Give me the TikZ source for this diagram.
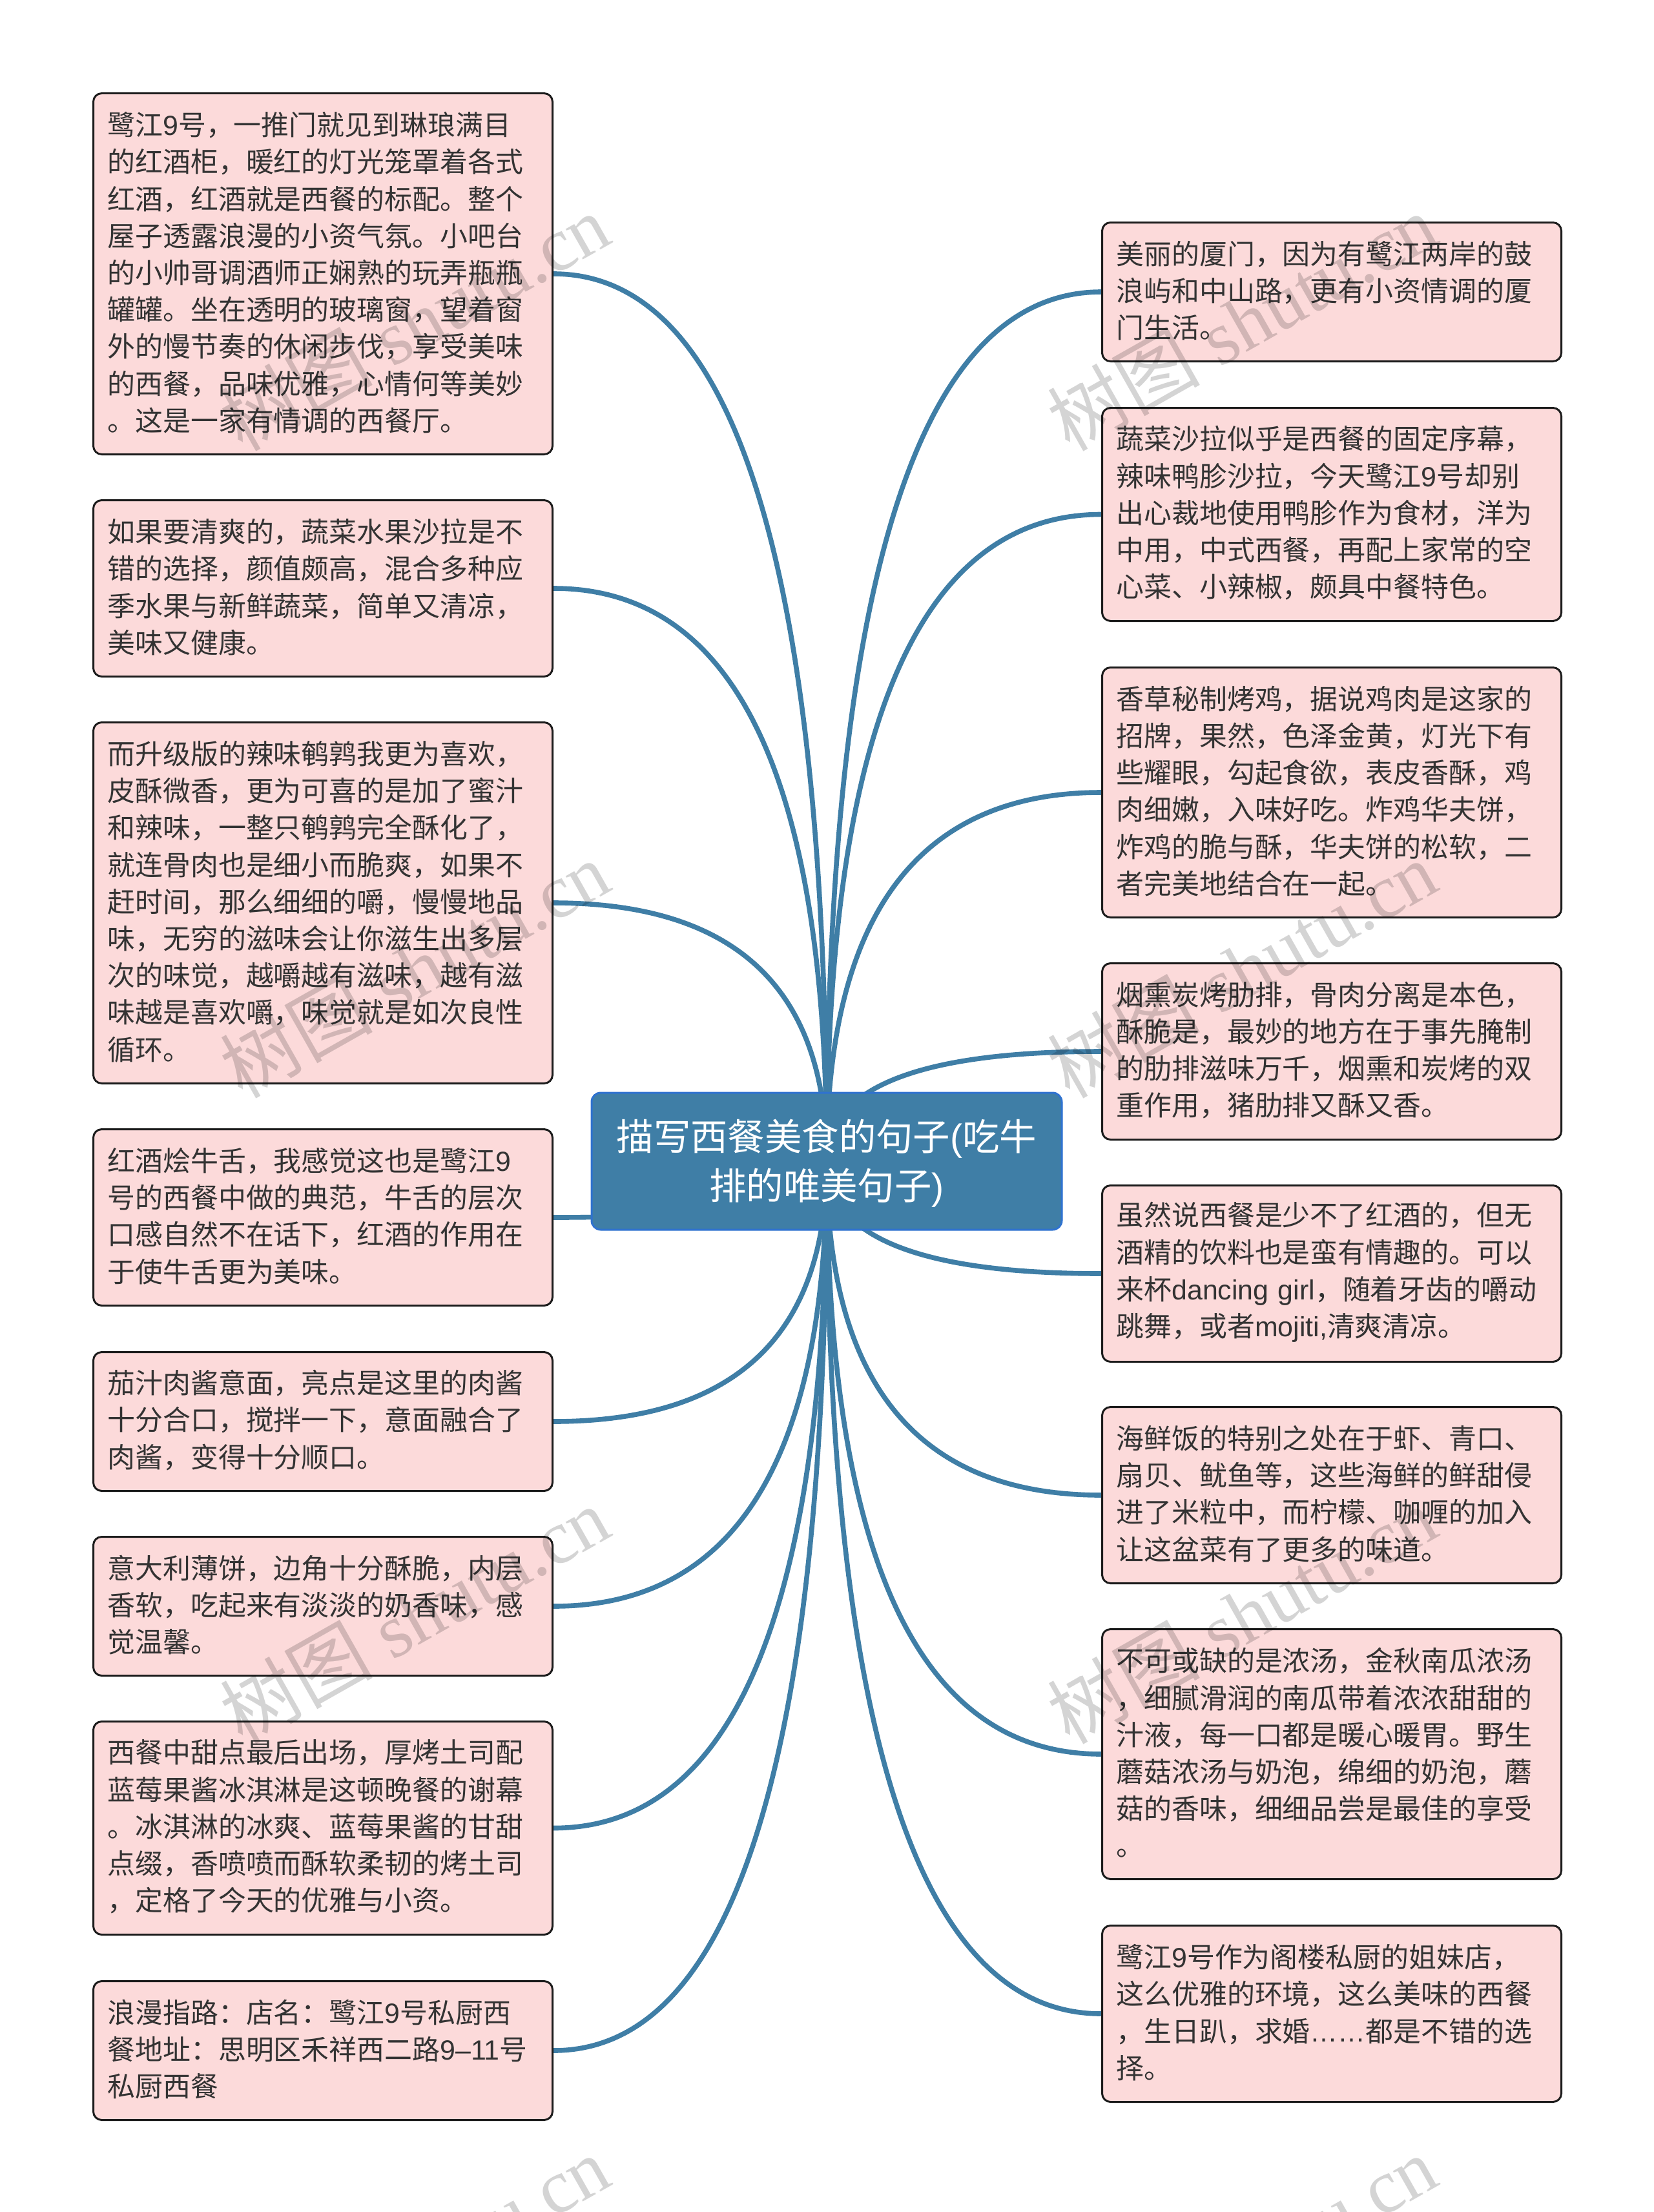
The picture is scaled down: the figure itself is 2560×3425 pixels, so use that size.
\documentclass[tikz,border=0pt]{standalone}
\usepackage{fontspec}
\usetikzlibrary{calc,backgrounds}
\setmainfont{Noto Sans CJK SC}
\newfontfamily\wmfont{Liberation Serif}
\newfontfamily\cjkwm{Noto Sans CJK SC}
\newfontfamily\latfont{Liberation Sans}
\definecolor{stem}{HTML}{3F7EA6}
\definecolor{rootedge}{HTML}{2F72CF}
\definecolor{pinkfill}{HTML}{FCDADA}
\definecolor{boxedge}{HTML}{1C1C1C}
\definecolor{ink}{HTML}{333333}
\tikzset{
  pinkbox/.style={draw=boxedge,fill=pinkfill,line width=1.5pt,rounded corners=6.5pt,
    anchor=north west,minimum width=355.5pt,inner xsep=11pt,inner ysep=0pt,
    text width=333.5pt,align=left,text=ink,font=\fontsize{21.45pt}{28.6pt}\selectfont},
  rootbox/.style={draw=rootedge,fill=stem,line width=1.5pt,rounded corners=7pt,
    minimum width=364pt,minimum height=106pt,inner sep=0pt,align=center,text=white,
    font=\fontsize{28.7pt}{38.2pt}\selectfont},
  stemline/.style={draw=stem,line width=3.8pt},
  wmark/.style={rotate=29.5,text=black,text opacity=0.17,inner sep=0pt,
    font=\wmfont\fontsize{59pt}{59pt}\selectfont}
}
\newcommand\pinknode[5]{\node[pinkbox,minimum height=#4pt] (#1) at (#2,#3) {#5\par\vspace{2pt}};}
\newcommand\wmtext{{\cjkwm 树图}\ shutu.cn}
\newcommand\lt[1]{{\latfont #1}}
\begin{document}
\begin{tikzpicture}[x=0.5pt,y=-0.5pt]
\useasboundingbox (0,0) rectangle (2560,3425);
\node[rootbox] (root) at (1280,1798) {\rule{0pt}{27.4pt}描写西餐美食的句子\lt{(}吃牛\\排的唯美句子\lt{)}};

\pinknode{l1}{143}{143}{279.5}{鹭江\lt{9}号，一推门就见到琳琅满目\\的红酒柜，暖红的灯光笼罩着各式\\红酒，红酒就是西餐的标配。整个\\屋子透露浪漫的小资气氛。小吧台\\的小帅哥调酒师正娴熟的玩弄瓶瓶\\罐罐。坐在透明的玻璃窗，望着窗\\外的慢节奏的休闲步伐，享受美味\\的西餐，品味优雅，心情何等美妙\\。这是一家有情调的西餐厅。}
\pinknode{l2}{143}{773}{136.5}{如果要清爽的，蔬菜水果沙拉是不\\错的选择，颜值颇高，混合多种应\\季水果与新鲜蔬菜，简单又清凉，\\美味又健康。}
\pinknode{l3}{143}{1117}{279.5}{而升级版的辣味鹌鹑我更为喜欢，\\皮酥微香，更为可喜的是加了蜜汁\\和辣味，一整只鹌鹑完全酥化了，\\就连骨肉也是细小而脆爽，如果不\\赶时间，那么细细的嚼，慢慢地品\\味，无穷的滋味会让你滋生出多层\\次的味觉，越嚼越有滋味，越有滋\\味越是喜欢嚼，味觉就是如次良性\\循环。}
\pinknode{l4}{143}{1747}{136.5}{红酒烩牛舌，我感觉这也是鹭江\lt{9}\\号的西餐中做的典范，牛舌的层次\\口感自然不在话下，红酒的作用在\\于使牛舌更为美味。}
\pinknode{l5}{143}{2092}{107.5}{茄汁肉酱意面，亮点是这里的肉酱\\十分合口，搅拌一下，意面融合了\\肉酱，变得十分顺口。}
\pinknode{l6}{143}{2378}{107.5}{意大利薄饼，边角十分酥脆，内层\\香软，吃起来有淡淡的奶香味，感\\觉温馨。}
\pinknode{l7}{143}{2664}{165}{西餐中甜点最后出场，厚烤土司配\\蓝莓果酱冰淇淋是这顿晚餐的谢幕\\。冰淇淋的冰爽、蓝莓果酱的甘甜\\点缀，香喷喷而酥软柔韧的烤土司\\，定格了今天的优雅与小资。}
\pinknode{l8}{143}{3066}{107.5}{浪漫指路：店名：鹭江\lt{9}号私厨西\\餐地址：思明区禾祥西二路\lt{9–11}号\\私厨西餐}

\pinknode{r1}{1705}{343}{107.5}{美丽的厦门，因为有鹭江两岸的鼓\\浪屿和中山路，更有小资情调的厦\\门生活。}
\pinknode{r2}{1705}{630}{165}{蔬菜沙拉似乎是西餐的固定序幕，\\辣味鸭胗沙拉，今天鹭江\lt{9}号却别\\出心裁地使用鸭胗作为食材，洋为\\中用，中式西餐，再配上家常的空\\心菜、小辣椒，颇具中餐特色。}
\pinknode{r3}{1705}{1032}{193.5}{香草秘制烤鸡，据说鸡肉是这家的\\招牌，果然，色泽金黄，灯光下有\\些耀眼，勾起食欲，表皮香酥，鸡\\肉细嫩，入味好吃。炸鸡华夫饼，\\炸鸡的脆与酥，华夫饼的松软，二\\者完美地结合在一起。}
\pinknode{r4}{1705}{1490}{136.5}{烟熏炭烤肋排，骨肉分离是本色，\\酥脆是，最妙的地方在于事先腌制\\的肋排滋味万千，烟熏和炭烤的双\\重作用，猪肋排又酥又香。}
\pinknode{r5}{1705}{1834}{136.5}{虽然说西餐是少不了红酒的，但无\\酒精的饮料也是蛮有情趣的。可以\\\mbox{来杯\lt{dancing girl}，随着牙齿的嚼动}\\跳舞，或者\lt{mojiti,}清爽清凉。}
\pinknode{r6}{1705}{2177}{136.5}{海鲜饭的特别之处在于虾、青口、\\扇贝、鱿鱼等，这些海鲜的鲜甜侵\\进了米粒中，而柠檬、咖喱的加入\\让这盆菜有了更多的味道。}
\pinknode{r7}{1705}{2521}{193.5}{不可或缺的是浓汤，金秋南瓜浓汤\\，细腻滑润的南瓜带着浓浓甜甜的\\汁液，每一口都是暖心暖胃。野生\\蘑菇浓汤与奶泡，绵细的奶泡，蘑\\菇的香味，细细品尝是最佳的享受\\。}
\pinknode{r8}{1705}{2980}{136.5}{鹭江\lt{9}号作为阁楼私厨的姐妹店，\\这么优雅的环境，这么美味的西餐\\，生日趴，求婚\lt{……}都是不错的选\\择。}

\begin{scope}[on background layer]
\fill[white] (0,0) rectangle (2560,3425);
\foreach \n/\s in {l1/east,l2/east,l3/east,l4/east,l5/east,l6/east,l7/east,l8/east,r1/west,r2/west,r3/west,r4/west,r5/west,r6/west,r7/west,r8/west}{
  \draw[stemline] (root.center)
    .. controls ($(root.center)!0.667!(root.center |- \n.\s)$)
    and ($(\n.\s)!0.667!(root.center |- \n.\s)$) .. (\n.\s);
}
\end{scope}

\node[wmark] (w1) at (642,498) {\wmtext};
\node[wmark] (w2) at (1923,498) {\wmtext};
\node[wmark] (w3) at (642,1500) {\wmtext};
\node[wmark] (w4) at (1923,1500) {\wmtext};
\node[wmark] (w5) at (642,2500) {\wmtext};
\node[wmark] (w6) at (1923,2500) {\wmtext};
\node[wmark] (w7) at (642,3505) {\wmtext};
\node[wmark] (w8) at (1923,3505) {\wmtext};
\end{tikzpicture}
\end{document}
